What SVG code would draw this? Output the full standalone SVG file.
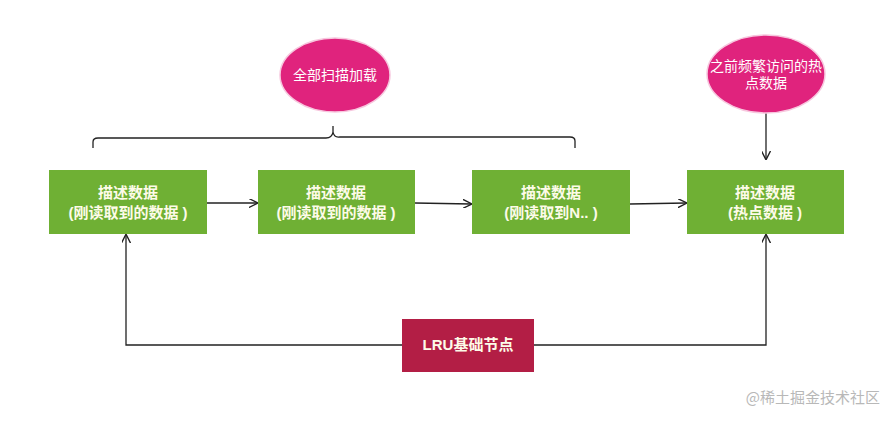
<svg xmlns="http://www.w3.org/2000/svg" width="896" height="421" viewBox="0 0 896 421">
<defs>
<marker id="ah" viewBox="0 0 10 10" refX="9" refY="5" markerWidth="9" markerHeight="9" markerUnits="userSpaceOnUse" orient="auto">
<path d="M0,0 L10,5 L0,10" fill="none" stroke="#222" stroke-width="1.5"/>
</marker>
<style>
.box{fill:#6fb034;}
.ell{fill:#e0237d;stroke:#f7c7de;stroke-width:1.5;}
.lru{fill:#b31e45;}
.bt{font-family:"Liberation Sans","Noto Sans CJK SC",sans-serif;font-size:15px;font-weight:bold;fill:#fdfbe8;text-anchor:middle;}
.et{font-family:"Liberation Sans","Noto Sans CJK SC",sans-serif;font-size:14px;fill:#ffffff;text-anchor:middle;}
.ln{fill:none;stroke:#222;stroke-width:1.3;}
</style>
</defs>
<rect width="896" height="421" fill="#ffffff"/>
<g id="connectors">
<path class="ln" d="M207,203 L257,203" marker-end="url(#ah)"/>
<path class="ln" d="M415,203 L471,204" marker-end="url(#ah)"/>
<path class="ln" d="M630,204 L686,203" marker-end="url(#ah)"/>
<path class="ln" d="M766,113 L766,159" marker-end="url(#ah)"/>
<path class="ln" d="M402,345 L126,345 L126,235" marker-end="url(#ah)"/>
<path class="ln" d="M534,345 L766,345 L766,235" marker-end="url(#ah)"/>
<path class="ln" d="M93,148 L93,142 Q93,138 98,138 L326,138 Q332,138 333,132 L333,126 M333,132 Q334,138 340,137 L570,137 Q575,137 575,141 L575,148"/>
</g>
<g id="ellipse1">
<ellipse class="ell" cx="335" cy="75" rx="55" ry="37"/>
<text class="et" x="335" y="80">全部扫描加载</text>
</g>
<g id="ellipse2">
<ellipse class="ell" cx="766" cy="74" rx="59" ry="39"/>
<text class="et" x="766" y="71">之前频繁访问的热</text>
<text class="et" x="766" y="88">点数据</text>
</g>
<g id="node1">
<rect class="box" x="49" y="170" width="158" height="64"/>
<text class="bt" x="128" y="198">描述数据</text>
<text class="bt" x="128" y="218">(刚读取到的数据 )</text>
</g>
<g id="node2">
<rect class="box" x="258" y="170" width="157" height="64"/>
<text class="bt" x="336" y="198">描述数据</text>
<text class="bt" x="336" y="218">(刚读取到的数据 )</text>
</g>
<g id="node3">
<rect class="box" x="472" y="170" width="158" height="64"/>
<text class="bt" x="551" y="198">描述数据</text>
<text class="bt" x="551" y="218">(刚读取到N.. )</text>
</g>
<g id="node4">
<rect class="box" x="687" y="170" width="157" height="64"/>
<text class="bt" x="765" y="198">描述数据</text>
<text class="bt" x="765" y="218">(热点数据 )</text>
</g>
<g id="lru">
<rect class="lru" x="402" y="319" width="132" height="53"/>
<text class="bt" x="468" y="350">LRU基础节点</text>
</g>
<text x="880" y="403" font-family="'Noto Sans CJK SC',sans-serif" font-size="15" fill="#b8b8b8" text-anchor="end">@稀土掘金技术社区</text>
</svg>
